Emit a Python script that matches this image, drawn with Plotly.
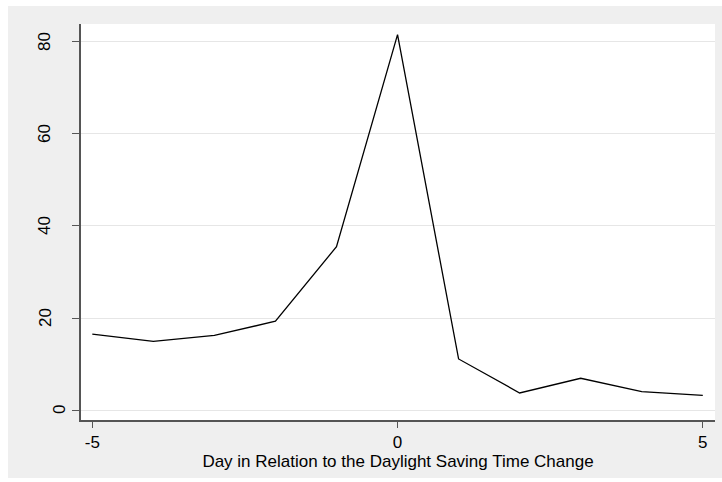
import plotly.graph_objects as go

days = [-5, -4, -3, -2, -1, 0, 1, 2, 3, 4, 5]
values = [16.5, 14.9, 16.2, 19.3, 35.5, 81.6, 11.1, 3.7, 6.9, 4.0, 3.2]
x_ticks = [-5, 0, 5]
x_tick_labels = ["-5", "0", "5"]
y_ticks = [0, 20, 40, 60, 80]
y_tick_labels = ["0", "20", "40", "60", "80"]
x_title = "Day in Relation to the Daylight Saving Time Change"

W, H = 722, 482
L, R, T, B = 81, 7, 24, 62
pw, ph = W - L - R, H - T - B

fig = go.Figure()
fig.add_trace(go.Scatter(x=days, y=values, mode="lines",
                         line=dict(color="black", width=1.3), hoverinfo="skip"))

fig.add_shape(type="rect", xref="paper", yref="paper", layer="below",
              x0=(8 - L) / pw, x1=(W - L) / pw, y0=(T + ph - 478) / ph, y1=(T + ph - 6) / ph,
              fillcolor="#efefef", line=dict(width=0))
fig.add_shape(type="rect", xref="paper", yref="paper", layer="below",
              x0=0, x1=1, y0=0, y1=1, fillcolor="white", line=dict(width=0))

font = dict(family="Liberation Sans, Arial, sans-serif", size=17, color="black")

# y tick labels (Stata-style vertical labels) placed on the y axis scale
for v, lab in zip(y_ticks, y_tick_labels):
    cx = 59 if len(lab) == 1 else 45
    fig.add_annotation(text=lab, xref="paper", yref="y", x=(cx - L) / pw, y=v,
                       xanchor="center", yanchor="middle", textangle=-90,
                       showarrow=False, font=font)

fig.update_layout(
    width=W, height=H,
    margin=dict(l=L, r=R, t=T, b=B, pad=0, autoexpand=False),
    paper_bgcolor="white", plot_bgcolor="white",
    showlegend=False, font=font,
    xaxis=dict(range=[-5.185, 5.2], tickvals=x_ticks, ticktext=x_tick_labels,
               showgrid=False, zeroline=False, automargin=False,
               showline=True, linecolor="#555555", linewidth=1.6,
               ticks="outside", ticklen=6, tickcolor="#555555", tickwidth=1.2,
               tickfont=font, title=dict(text=x_title, font=font, standoff=0)),
    yaxis=dict(range=[-2.17, 83.9], tickvals=y_ticks, showticklabels=False,
               showgrid=True, gridcolor="#e6e6e6", automargin=False,
               gridwidth=1, zeroline=False,
               showline=True, linecolor="#555555", linewidth=1.6,
               ticks="outside", ticklen=7, tickcolor="#555555", tickwidth=1.2),
)

fig.write_html("out.html", config={"displayModeBar": False},
               post_script="document.body.style.margin='0';document.body.style.overflow='hidden';")
